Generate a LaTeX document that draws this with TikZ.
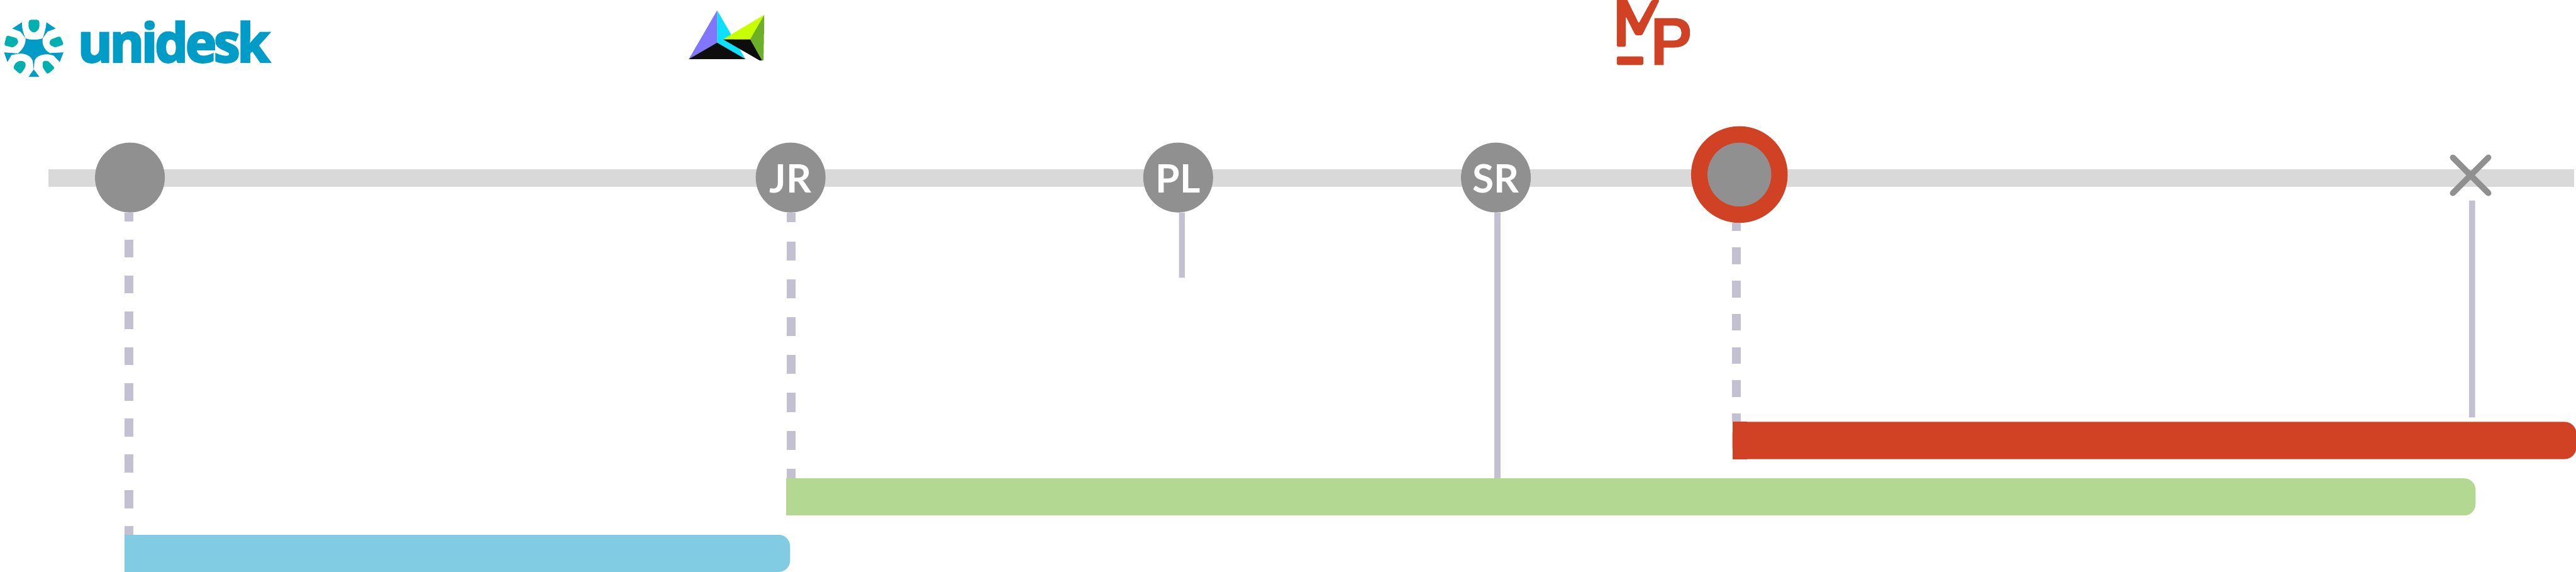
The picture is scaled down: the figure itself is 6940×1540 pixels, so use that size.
\documentclass[tikz,border=0pt]{standalone}
\usepackage{fontspec}
\setmainfont{Lato}
\newfontfamily\logofont[LetterSpace=-5,BoldFeatures={FakeBold=3.5}]{Open Sans}
\usetikzlibrary{shapes.misc}
\definecolor{trackgray}{HTML}{D9D9D9}
\definecolor{dotgray}{HTML}{909090}
\definecolor{stemgray}{HTML}{C3C1D1}
\definecolor{mpred}{HTML}{D14124}
\definecolor{leafgreen}{HTML}{B3D892}
\definecolor{skyblue}{HTML}{81CBE3}
\definecolor{unidblue}{HTML}{009CC8}
\definecolor{unidteal}{HTML}{00B0B0}
\definecolor{kitecyan}{HTML}{0BE0FF}
\definecolor{kitepurple}{HTML}{8076FF}
\definecolor{kitelime}{HTML}{C7FF00}
\definecolor{kitegreen}{HTML}{6BB027}
\definecolor{kiteblack}{HTML}{0D0D0D}
\tikzset{
  person/.style={circle, fill=dotgray, text=white, inner sep=0pt, minimum size=1.88cm,
    font=\fontsize{30}{30}\selectfont\bfseries, text height=.84cm, text depth=0cm},
  stem/.style={stemgray, line width=.16cm},
  dropline/.style={stemgray, line width=.24cm},
  barbox/.style={inner sep=0pt, outer sep=0pt, minimum height=1cm, rounded corners=.31cm},
}
\begin{document}
\begin{tikzpicture}[x=.01cm, y=-.01cm]
  \useasboundingbox (0,0) rectangle (6940,1540);

  \node[fill=trackgray, inner sep=0pt, outer sep=0pt, minimum width=68cm, minimum height=.48cm] (track) at (3532,480) {};

  \node[person] (first) at (350,478) {};
  \node[person] (jr) at (2130,478) {JR};
  \node[person] (pl) at (3174,478) {PL};
  \node[person] (sr) at (4030,478) {SR};
  \node[circle, fill=dotgray, draw=mpred, line width=.44cm, inner sep=0pt, minimum size=2.16cm] (current) at (4686,470) {};
  \node[cross out, draw=dotgray, line width=.16cm, line cap=round, inner sep=0pt, outer sep=0pt, minimum size=.96cm] (closed) at (6656,472) {};

  \node[barbox, fill=skyblue, minimum width=17.92cm] (bluebar) at (1232,1490) {};
  \fill[skyblue] (bluebar.north west) rectangle ([xshift=.4cm]bluebar.south west);
  \node[barbox, fill=leafgreen, minimum width=45.48cm] (greenbar) at (4394,1338) {};
  \fill[leafgreen] (greenbar.north west) rectangle ([xshift=.4cm]greenbar.south west);
  \node[barbox, fill=mpred, minimum width=22.72cm] (redbar) at (5804,1186) {};
  \fill[mpred] (redbar.north west) rectangle ([xshift=.4cm]redbar.south west);

  \draw[dropline, dash pattern=on .482cm off .482cm, dash phase=.24cm]
    ([xshift=-.02cm]first.south) -- ([xshift=-.02cm]first.south |- bluebar.north);
  \draw[dropline, dash pattern=on .51cm off .51cm, dash phase=.25cm]
    ([xshift=.02cm]jr.south) -- ([xshift=.02cm]jr.south |- greenbar.north);
  \draw[dropline, dash pattern=on .446cm off .446cm, dash phase=.226cm]
    ([xshift=-.08cm]current.south) -- ([xshift=-.08cm]current.south |- redbar.north);

  \coordinate (plfoot) at (3184,748);
  \coordinate (closedfoot) at (6660,1124);
  \draw[stem] ([xshift=.1cm]pl.south) -- (plfoot);
  \draw[stem] ([xshift=.04cm]sr.south) -- ([xshift=.04cm]sr.south |- greenbar.north);
  \draw[stem] ([xshift=.04cm,yshift=-.2cm]closed.south) -- (closedfoot);

  % unidesk
  \fill[unidblue] (59,60) -- (33,77) -- (55,85) -- (69,103) .. controls (76,108) and (106,108) .. (115,103)
    .. controls (120,90) and (124,75) .. (125,60) -- (150,77) -- (128,85) -- (115,103)
    .. controls (112,120) and (120,135) .. (134,143) -- (171,141) -- (161,167) -- (145,150)
    .. controls (130,143) and (100,145) .. (93,163) -- (91,187) -- (106,207) -- (77,207) -- (91,187) -- (88,163)
    .. controls (80,145) and (60,143) .. (48,145) -- (31,148) -- (20,167) -- (11,141) -- (48,144)
    .. controls (60,135) and (70,120) .. (69,103) .. controls (62,90) and (59,75) .. cycle;
  \fill[unidteal, rounded corners=.07cm] (77,53) -- (106,53) -- (106,78) -- (91,90) -- (77,78) -- cycle;
  \fill[unidteal, rounded corners=.05cm] (162,97) -- (172,120) -- (148,128) -- (133,120) -- (135,107) -- cycle;
  \fill[unidteal, rounded corners=.05cm] (18,95) -- (46,103) -- (50,115) -- (36,128) -- (11,122) -- cycle;
  \fill[unidteal, rounded corners=.05cm] (56,163) -- (69,168) -- (69,180) -- (55,200) -- (35,183) -- (43,168) -- cycle;
  \fill[unidteal, rounded corners=.05cm] (115,165) -- (128,163) -- (148,183) -- (128,200) -- (115,182) -- cycle;
  \node[anchor=base west, inner sep=0pt, text=unidblue, xscale=.98, font=\fontsize{41}{41}\selectfont\logofont\bfseries] (unidesk) at (209,167) {unidesk};

  % kite
  \fill[kitecyan] (1932,28) -- (2008,159) -- (1932,115) -- cycle;
  \fill[kitepurple] (1932,28) -- (1932,115) -- (1856,159) -- cycle;
  \fill[kiteblack] (1856,159) -- (1932,115) -- (2008,159) -- cycle;
  \fill[kitelime] (1948,106) -- (2059,40) -- (2021,106) -- cycle;
  \fill[kitegreen] (2059,40) -- (2021,106) -- (2053,163) -- (2057,163) -- cycle;
  \fill[kiteblack] (1948,106) -- (2021,106) -- (2053,163) -- (2047,163) -- cycle;

  % M_P
  \fill[mpred, rounded corners=.03cm] (4356,-8) -- (4380,-8) -- (4415,63) -- (4450,0) -- (4471,0) -- (4424,95) -- (4406,95) -- (4380,44) -- (4380,126) -- (4356,126) -- cycle;
  \fill[mpred, rounded corners=.03cm] (4356,152) rectangle (4427,175);
  \fill[mpred, even odd rule] (4457,49) -- (4510,49) .. controls (4538,49) and (4553,62) .. (4553,88)
    .. controls (4553,114) and (4538,128) .. (4510,128) -- (4482,128) -- (4482,175) -- (4457,175) -- cycle
    (4482,69) -- (4482,109) -- (4510,109) .. controls (4524,109) and (4530,100) .. (4530,89)
    .. controls (4530,77) and (4524,69) .. (4510,69) -- cycle;
\end{tikzpicture}
\end{document}
